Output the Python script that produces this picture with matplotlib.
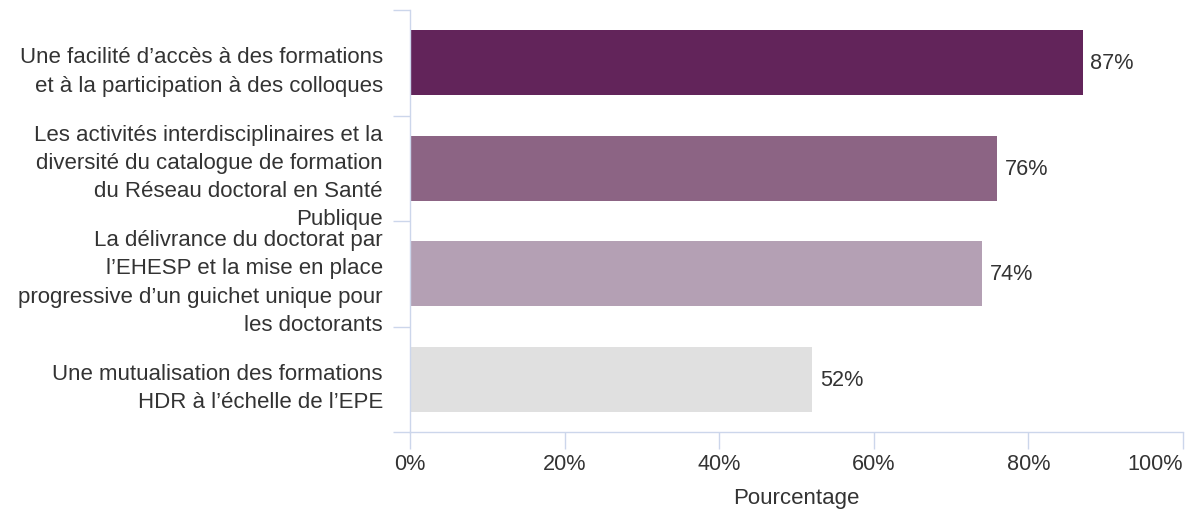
import numpy as np
import matplotlib.pyplot as plt

plt.rcParams['font.family'] = ['Liberation Sans', 'DejaVu Sans']

categories = [
    "Une facilité d\u2019accès à des formations\net à la participation à des colloques",
    "Les activités interdisciplinaires et la\ndiversité du catalogue de formation\ndu Réseau doctoral en Santé\nPublique",
    "La délivrance du doctorat par\nl\u2019EHESP et la mise en place\nprogressive d\u2019un guichet unique pour\nles doctorants",
    "Une mutualisation des formations\nHDR à l\u2019échelle de l\u2019EPE",
]
values = [87, 76, 74, 52]
colors = ['#62245a', '#8c6484', '#b4a0b4', '#e0e0e0']
xticks = [0, 20, 40, 60, 80, 100]

axis_col = '#ccd6eb'
text_col = '#333333'

fig = plt.figure(figsize=(11.99, 5.11), dpi=100)
ax = fig.add_axes([410 / 1199, 1 - 432 / 511, 773 / 1199, 422 / 511])

y = np.arange(len(categories))
ax.barh(y, values, height=0.62, color=colors)

for yi, v in zip(y, values):
    ax.text(v + 1.0, yi + 0.01, f"{v}%", va='center', ha='left',
            fontsize=15.6, color=text_col)

ax.set_xlim(0, 100)
ax.set_ylim(len(categories) - 0.5, -0.5)

# category boundaries get the tick marks, centres get the labels
ax.set_yticks(np.arange(len(categories) + 1) - 0.5)
ax.set_yticklabels([])
ax.tick_params(axis='y', which='major', length=12.5, color=axis_col, width=1)
ax.set_yticks(y + 0.03, minor=True)
ax.set_yticklabels(categories, minor=True, fontsize=16, color=text_col,
                   linespacing=1.45)
ax.tick_params(axis='y', which='minor', length=0, pad=19.5)

ax.set_xticks(xticks)
ax.set_xticklabels([f"{t}%" for t in xticks], fontsize=15.6, color=text_col)
ax.get_xticklabels()[-1].set_horizontalalignment('right')
ax.tick_params(axis='x', length=12.5, color=axis_col, width=1, pad=3)
ax.set_xlabel("Pourcentage", fontsize=16, color=text_col, labelpad=10)

for side in ['top', 'right']:
    ax.spines[side].set_visible(False)
for side in ['left', 'bottom']:
    ax.spines[side].set_color(axis_col)
    ax.spines[side].set_linewidth(1)

fig.savefig('out.png', dpi=100)
